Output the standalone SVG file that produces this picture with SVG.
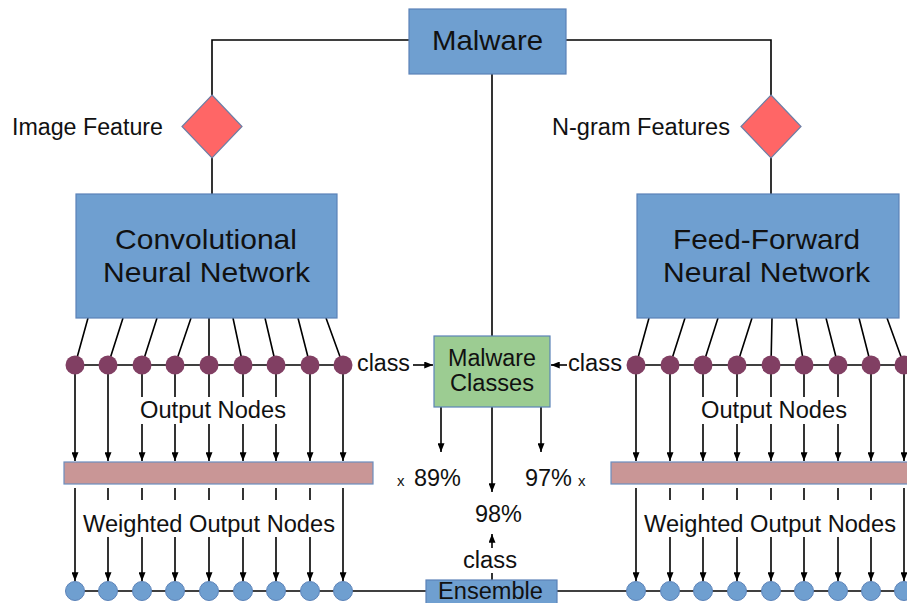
<svg xmlns="http://www.w3.org/2000/svg" width="907" height="603" viewBox="0 0 907 603">
<defs>
<style>
.box{fill:#6f9fd0;stroke:#5b82b8;stroke-width:1.2}
.green{fill:#9ccc92;stroke:#5b82b8;stroke-width:1.2}
.bar{fill:#c99696;stroke:#6c8ebf;stroke-width:1.2}
.dia{fill:#ff6666;stroke:#6c7fa6;stroke-width:1.2}
.pdot{fill:#813f63}
.bdot{fill:#6f9fd0;stroke:#5b82b8;stroke-width:1}
.ln{stroke:#000;stroke-width:1.6;fill:none}
.ar{stroke:#000;stroke-width:1.6;fill:none;marker-end:url(#ah)}
text{font-family:"Liberation Sans",Arial,sans-serif;fill:#111}
.t{font-size:23px}
.big{font-size:28px}
.sm{font-size:15px}
.wb{fill:#fff}
</style>
<marker id="ah" viewBox="0 0 10 8" refX="10" refY="4" markerWidth="9" markerHeight="7" orient="auto" markerUnits="userSpaceOnUse">
<path d="M0,0 L10,4 L0,8 z" fill="#000"/>
</marker>
</defs>

<g id="connectors">
<path class="ln" d="M409,40 H212 V95"/>
<path class="ln" d="M212,158 V194"/>
<path class="ln" d="M566,40 H771 V95"/>
<path class="ln" d="M771,158 V194"/>
<path class="ln" d="M492,74 V336"/>
<path class="ln" d="M88,318 L75,365 M123,318 L108,365 M157,318 L142,365 M191,318 L175,365 M209,318 L209,365 M233,318 L243,365 M265,318 L276,365 M298,318 L310,365 M326,318 L343,365"/>
<path class="ln" d="M649,318 L636,365 M685,318 L670,365 M718,318 L703,365 M752,318 L737,365 M772,318 L771,365 M796,318 L804,365 M826,318 L838,365 M859,318 L871,365 M887,318 L904,365"/>
<path class="ln" d="M75,365 H352"/>
<path class="ln" d="M627,365 H907"/>
<path class="ln" d="M75,591 H426"/>
<path class="ln" d="M557,591 H907"/>
<line class="ar" x1="75" y1="365" x2="75" y2="461"/>
<line class="ar" x1="108" y1="365" x2="108" y2="461"/>
<line class="ar" x1="142" y1="365" x2="142" y2="461"/>
<line class="ar" x1="175" y1="365" x2="175" y2="461"/>
<line class="ar" x1="209" y1="365" x2="209" y2="461"/>
<line class="ar" x1="243" y1="365" x2="243" y2="461"/>
<line class="ar" x1="276" y1="365" x2="276" y2="461"/>
<line class="ar" x1="310" y1="365" x2="310" y2="461"/>
<line class="ar" x1="343" y1="365" x2="343" y2="461"/>
<line class="ar" x1="75" y1="488" x2="75" y2="581"/>
<line class="ar" x1="108" y1="488" x2="108" y2="581"/>
<line class="ar" x1="142" y1="488" x2="142" y2="581"/>
<line class="ar" x1="175" y1="488" x2="175" y2="581"/>
<line class="ar" x1="209" y1="488" x2="209" y2="581"/>
<line class="ar" x1="243" y1="488" x2="243" y2="581"/>
<line class="ar" x1="276" y1="488" x2="276" y2="581"/>
<line class="ar" x1="310" y1="488" x2="310" y2="581"/>
<line class="ar" x1="343" y1="488" x2="343" y2="581"/>
<line class="ar" x1="636" y1="365" x2="636" y2="461"/>
<line class="ar" x1="670" y1="365" x2="670" y2="461"/>
<line class="ar" x1="703" y1="365" x2="703" y2="461"/>
<line class="ar" x1="737" y1="365" x2="737" y2="461"/>
<line class="ar" x1="771" y1="365" x2="771" y2="461"/>
<line class="ar" x1="804" y1="365" x2="804" y2="461"/>
<line class="ar" x1="838" y1="365" x2="838" y2="461"/>
<line class="ar" x1="871" y1="365" x2="871" y2="461"/>
<line class="ar" x1="904" y1="365" x2="904" y2="461"/>
<line class="ar" x1="636" y1="488" x2="636" y2="581"/>
<line class="ar" x1="670" y1="488" x2="670" y2="581"/>
<line class="ar" x1="703" y1="488" x2="703" y2="581"/>
<line class="ar" x1="737" y1="488" x2="737" y2="581"/>
<line class="ar" x1="771" y1="488" x2="771" y2="581"/>
<line class="ar" x1="804" y1="488" x2="804" y2="581"/>
<line class="ar" x1="838" y1="488" x2="838" y2="581"/>
<line class="ar" x1="871" y1="488" x2="871" y2="581"/>
<line class="ar" x1="904" y1="488" x2="904" y2="581"/>
<line class="ar" x1="413" y1="365" x2="433" y2="365"/>
<line class="ar" x1="567" y1="365" x2="551" y2="365"/>
<line class="ar" x1="441" y1="407" x2="441" y2="452"/>
<line class="ar" x1="541" y1="407" x2="541" y2="452"/>
<line class="ar" x1="492" y1="407" x2="492" y2="492"/>
<line class="ar" x1="492" y1="548" x2="492" y2="534"/>
<line class="ln" x1="492" y1="573" x2="492" y2="581"/>
</g>

<rect class="wb" x="139" y="397" width="149" height="27"/>
<rect class="wb" x="81" y="500" width="256" height="37"/>
<rect class="wb" x="700" y="397" width="149" height="27"/>
<rect class="wb" x="641" y="500" width="256" height="37"/>

<g id="malware">
<rect class="box" x="409" y="9" width="157" height="65"/>
<text class="big" x="487.5" y="50" text-anchor="middle" font-size="27" textLength="111" lengthAdjust="spacingAndGlyphs">Malware</text>
</g>

<g id="image-feature">
<polygon class="dia" points="212,95 242,126.5 212,158 182,126.5"/>
<text class="t" x="12" y="135" textLength="151" lengthAdjust="spacingAndGlyphs" font-size="22">Image Feature</text>
</g>

<g id="ngram-features">
<polygon class="dia" points="771,95 801,126.5 771,158 741,126.5"/>
<text class="t" x="552" y="135" textLength="178" lengthAdjust="spacingAndGlyphs" font-size="22">N-gram Features</text>
</g>

<g id="cnn">
<rect class="box" x="76" y="194" width="261" height="124"/>
<text class="big" x="206" y="249" text-anchor="middle" textLength="182" lengthAdjust="spacingAndGlyphs">Convolutional</text>
<text class="big" x="206.5" y="282" text-anchor="middle" textLength="207" lengthAdjust="spacingAndGlyphs">Neural Network</text>
</g>

<g id="ffnn">
<rect class="box" x="637" y="194" width="262" height="124"/>
<text class="big" x="766.5" y="249" text-anchor="middle" textLength="187" lengthAdjust="spacingAndGlyphs">Feed-Forward</text>
<text class="big" x="766.5" y="282" text-anchor="middle" textLength="207" lengthAdjust="spacingAndGlyphs">Neural Network</text>
</g>

<g id="cnn-output-nodes">
<circle class="pdot" cx="75" cy="365" r="9.5"/>
<circle class="pdot" cx="108" cy="365" r="9.5"/>
<circle class="pdot" cx="142" cy="365" r="9.5"/>
<circle class="pdot" cx="175" cy="365" r="9.5"/>
<circle class="pdot" cx="209" cy="365" r="9.5"/>
<circle class="pdot" cx="243" cy="365" r="9.5"/>
<circle class="pdot" cx="276" cy="365" r="9.5"/>
<circle class="pdot" cx="310" cy="365" r="9.5"/>
<circle class="pdot" cx="343" cy="365" r="9.5"/>
<text class="t" x="213" y="418" text-anchor="middle" textLength="146" lengthAdjust="spacingAndGlyphs" font-size="21">Output Nodes</text>
<text class="t" x="357" y="371" textLength="53" lengthAdjust="spacingAndGlyphs">class</text>
</g>

<g id="ffnn-output-nodes">
<circle class="pdot" cx="636" cy="365" r="9.5"/>
<circle class="pdot" cx="670" cy="365" r="9.5"/>
<circle class="pdot" cx="703" cy="365" r="9.5"/>
<circle class="pdot" cx="737" cy="365" r="9.5"/>
<circle class="pdot" cx="771" cy="365" r="9.5"/>
<circle class="pdot" cx="804" cy="365" r="9.5"/>
<circle class="pdot" cx="838" cy="365" r="9.5"/>
<circle class="pdot" cx="871" cy="365" r="9.5"/>
<circle class="pdot" cx="904" cy="365" r="9.5"/>
<text class="t" x="774" y="418" text-anchor="middle" textLength="146" lengthAdjust="spacingAndGlyphs" font-size="21">Output Nodes</text>
<text class="t" x="568" y="371" textLength="54" lengthAdjust="spacingAndGlyphs">class</text>
</g>

<g id="malware-classes">
<rect class="green" x="434" y="336" width="116" height="71"/>
<text class="t" x="492" y="366" text-anchor="middle" textLength="88" lengthAdjust="spacingAndGlyphs" font-size="22">Malware</text>
<text class="t" x="492" y="391" text-anchor="middle" textLength="84" lengthAdjust="spacingAndGlyphs" font-size="22">Classes</text>
</g>

<g id="cnn-weights">
<rect class="bar" x="64" y="462" width="309" height="22"/>
<text class="t" x="209" y="532" text-anchor="middle" textLength="252" lengthAdjust="spacingAndGlyphs" font-size="22">Weighted Output Nodes</text>
</g>

<g id="ffnn-weights">
<rect class="bar" x="611" y="462" width="300" height="22"/>
<text class="t" x="770" y="532" text-anchor="middle" textLength="252" lengthAdjust="spacingAndGlyphs" font-size="22">Weighted Output Nodes</text>
</g>

<g id="accuracies">
<text class="sm" x="397" y="486">x</text>
<text class="t" x="414" y="486" textLength="47" lengthAdjust="spacingAndGlyphs">89%</text>
<text class="t" x="525" y="486" textLength="47" lengthAdjust="spacingAndGlyphs">97%</text>
<text class="sm" x="578" y="486">x</text>
<text class="t" x="498.5" y="522" text-anchor="middle" textLength="47" lengthAdjust="spacingAndGlyphs">98%</text>
<text class="t" x="490" y="568" text-anchor="middle" textLength="54" lengthAdjust="spacingAndGlyphs">class</text>
</g>

<g id="cnn-weighted-nodes">
<circle class="bdot" cx="75" cy="591" r="9.5"/>
<circle class="bdot" cx="108" cy="591" r="9.5"/>
<circle class="bdot" cx="142" cy="591" r="9.5"/>
<circle class="bdot" cx="175" cy="591" r="9.5"/>
<circle class="bdot" cx="209" cy="591" r="9.5"/>
<circle class="bdot" cx="243" cy="591" r="9.5"/>
<circle class="bdot" cx="276" cy="591" r="9.5"/>
<circle class="bdot" cx="310" cy="591" r="9.5"/>
<circle class="bdot" cx="343" cy="591" r="9.5"/>
</g>

<g id="ffnn-weighted-nodes">
<circle class="bdot" cx="636" cy="591" r="9.5"/>
<circle class="bdot" cx="670" cy="591" r="9.5"/>
<circle class="bdot" cx="703" cy="591" r="9.5"/>
<circle class="bdot" cx="737" cy="591" r="9.5"/>
<circle class="bdot" cx="771" cy="591" r="9.5"/>
<circle class="bdot" cx="804" cy="591" r="9.5"/>
<circle class="bdot" cx="838" cy="591" r="9.5"/>
<circle class="bdot" cx="871" cy="591" r="9.5"/>
<circle class="bdot" cx="904" cy="591" r="9.5"/>
</g>

<g id="ensemble">
<rect class="box" x="426" y="580" width="131" height="30"/>
<text class="t" x="490.5" y="599" text-anchor="middle" textLength="105" lengthAdjust="spacingAndGlyphs">Ensemble</text>
</g>
</svg>
